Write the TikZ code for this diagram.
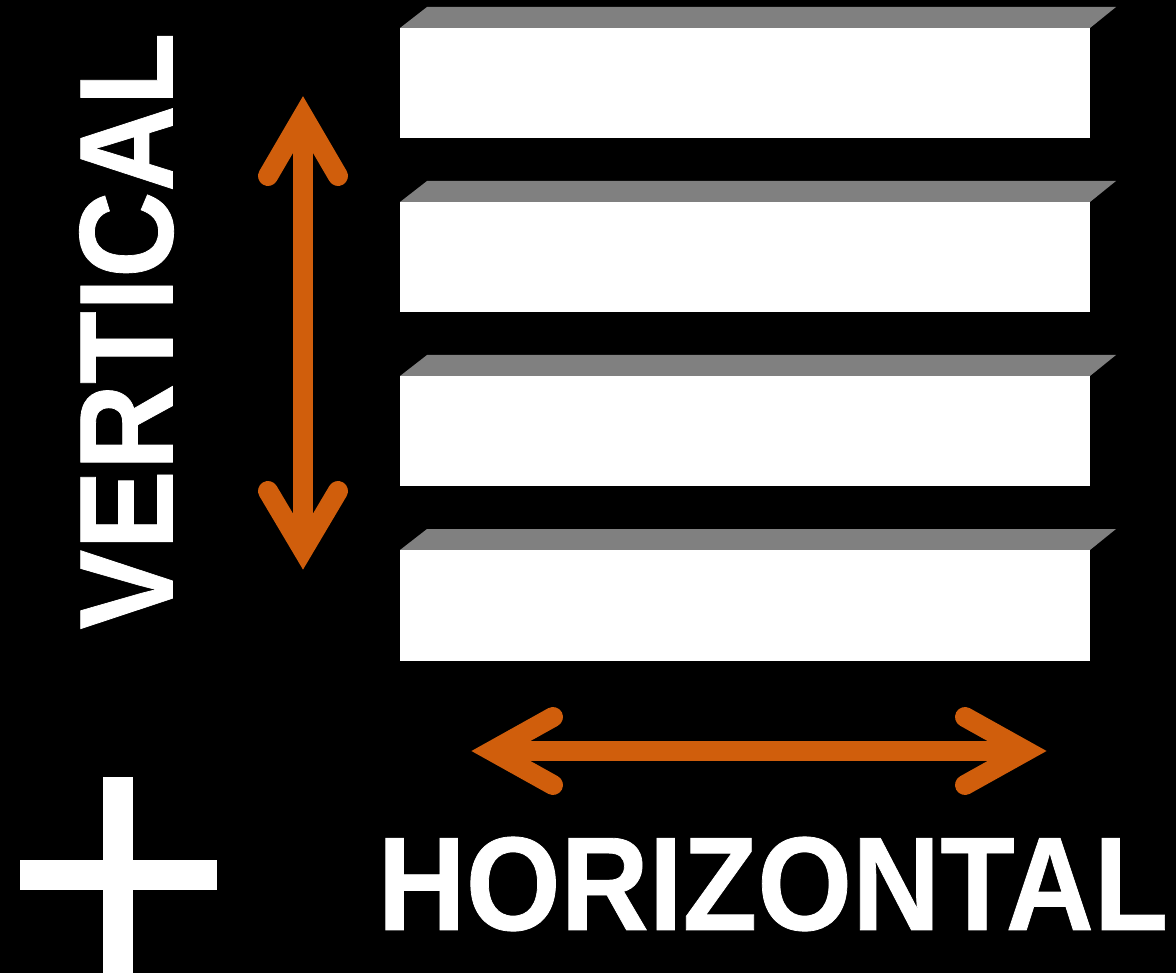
\documentclass[tikz,border=0pt]{standalone}
\usepackage{fontspec}
\setmainfont{Liberation Sans}[BoldFeatures={FakeBold=0.6}]
\usepackage{graphicx}
\definecolor{arroworange}{RGB}{208,94,12}
\definecolor{bevelgrey}{RGB}{128,128,128}
\begin{document}
\begin{tikzpicture}[x=1pt,y=-1pt,
  shaft/.style={line width=20pt,draw=arroworange},
  chevron/.style={line width=20pt,draw=arroworange,line cap=round,line join=miter,miter limit=10},
  label/.style={inner sep=0pt,outer sep=0pt,text=white,font=\bfseries}]
\fill[black] (0,0) rectangle (1176,973);
\useasboundingbox (0,0) rectangle (1176,973);
% shelves
\foreach \i in {0,1,2,3}{
  \begin{scope}[yshift=-174*\i pt]
    \fill[bevelgrey] (400,28) -- (427,7) -- (1116,7) -- (1090,28) -- cycle;
    \fill[white] (400,28) rectangle (1090,138.5);
  \end{scope}
}
% vertical arrow
\coordinate (vtop) at (303,116);
\coordinate (vbot) at (303,550);
\draw[shaft] (vtop) -- (vbot);
\draw[chevron] (268,176) -- (vtop) -- (338,176);
\draw[chevron] (268,491) -- (vbot) -- (338,491);
% horizontal arrow
\coordinate (hleft) at (492,751);
\coordinate (hright) at (1026,751);
\draw[shaft] (hleft) -- (hright);
\draw[chevron] (553,717) -- (hleft) -- (553,785);
\draw[chevron] (965,717) -- (hright) -- (965,785);
% plus
\fill[white] (103,777) rectangle (133,973);
\fill[white] (20,860) rectangle (217,890);
% texts
\node[label,rotate=90] (vert) at (126.5,331) {\resizebox{597pt}{93pt}{VERTICAL}};
\node[label] (horiz) at (773,884) {\resizebox{790pt}{93pt}{HORIZONTAL}};
\end{tikzpicture}
\end{document}
